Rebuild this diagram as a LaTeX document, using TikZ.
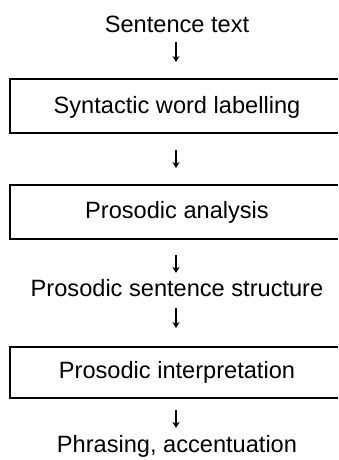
\documentclass[tikz,border=0pt]{standalone}
\usepackage{fontspec}
\setmainfont{Liberation Sans}
\usetikzlibrary{arrows.meta}
\begin{document}
\begin{tikzpicture}[x=0.5pt,y=-0.5pt,
  lbl/.style={anchor=base, inner sep=0pt, outer sep=0pt, font=\fontsize{11.8pt}{14pt}\selectfont},
  boxn/.style={anchor=west, inner sep=0pt, outer sep=0pt, minimum width=164pt},
  frame/.style={line width=0.8pt},
  flow/.style={line width=0.7pt, -{Stealth[length=3pt,width=3.6pt]}}]
\useasboundingbox (0,0) rectangle (338,460);
\coordinate (ax) at (176,0);
% texts and boxes
\node[lbl] (t0) at (177,32.7) {Sentence text};
\node[boxn, minimum height=27pt] (b1) at (10,106) {};
\node[lbl] (l1) at (177,113) {Syntactic word labelling};
\node[boxn, minimum height=27pt] (b2) at (10,212) {};
\node[lbl] (l2) at (177,218) {Prosodic analysis};
\node[lbl] (t3) at (177,296) {Prosodic sentence structure};
\node[boxn, minimum height=25.5pt] (b3) at (10,372.5) {};
\node[lbl] (l3) at (177,378) {Prosodic interpretation};
\node[lbl] (t4) at (177,452) {Phrasing, accentuation};
% frames, open at the right (cut by the page edge)
\foreach \b in {b1,b2,b3}
  \draw[frame] (\b.north east) -- (\b.north west) -- (\b.south west) -- (\b.south east);
% arrows
\draw[flow, shorten <=4.65pt, shorten >=8.5pt] (t0.south -| ax) -- (b1.north -| ax);
\draw[flow, shorten <=8.5pt, shorten >=8.5pt] (b1.south -| ax) -- (b2.north -| ax);
\draw[flow, shorten <=8pt, shorten >=3pt] (b2.south -| ax) -- (t3.north -| ax);
\draw[flow, shorten <=6pt, shorten >=9.5pt] (t3.south -| ax) -- (b3.north -| ax);
\draw[flow, shorten <=6pt, shorten >=3.5pt] (b3.south -| ax) -- (t4.north -| ax);
\end{tikzpicture}
\end{document}
